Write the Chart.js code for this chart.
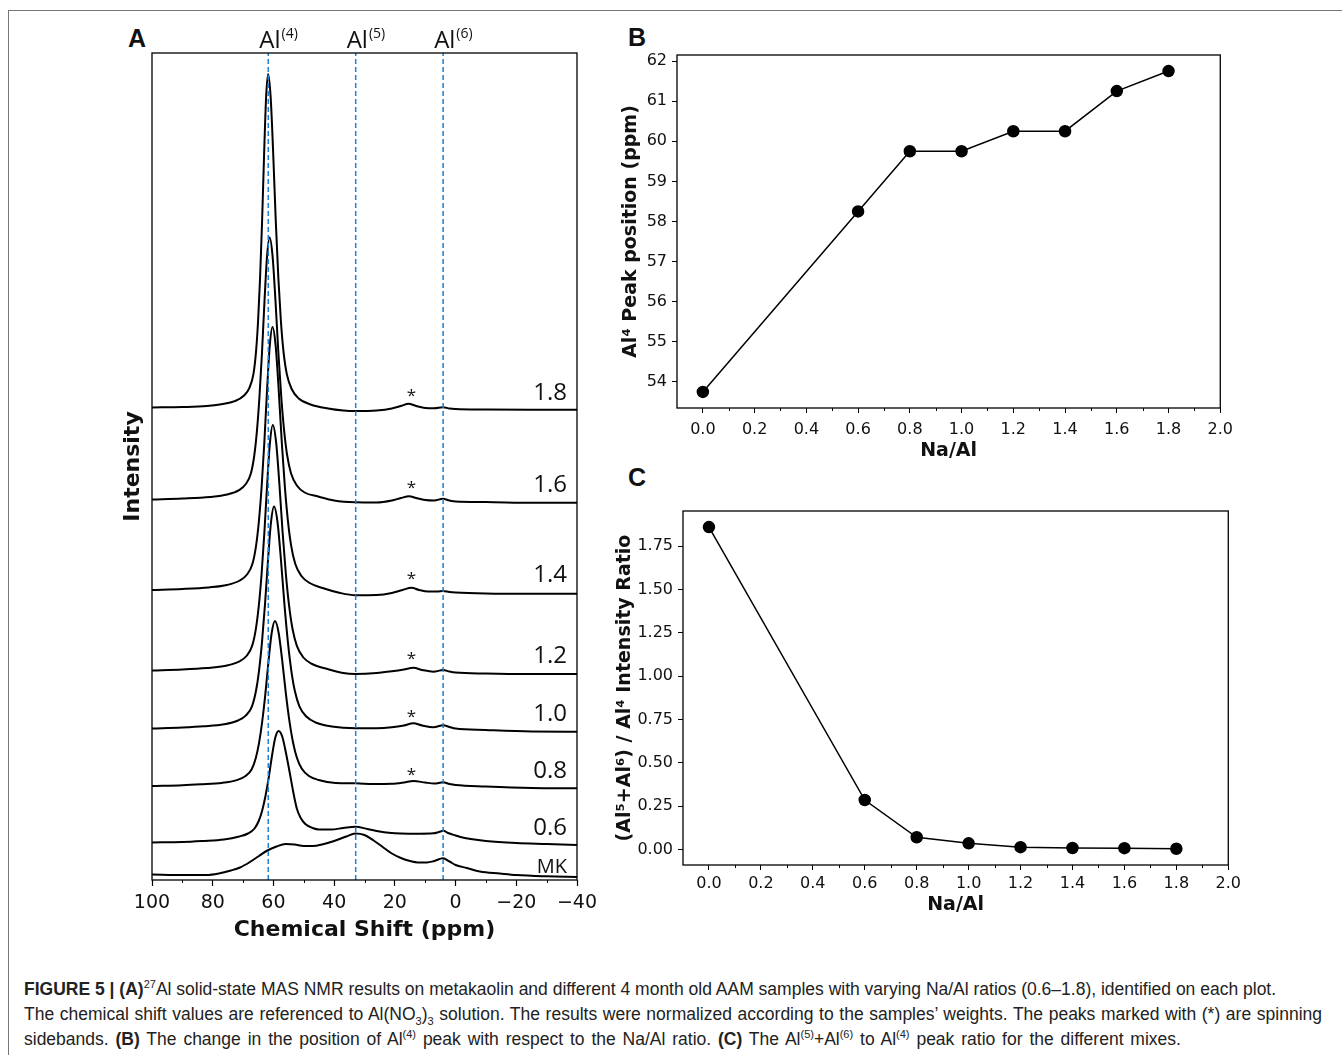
<!DOCTYPE html>
<html>
<head>
<meta charset="utf-8">
<script src="https://cdn.jsdelivr.net/npm/chart.js@4.4.0/dist/chart.umd.min.js"></script>
<style>
body { margin:0; background:#fff; width:1342px; height:1055px; overflow:hidden; position:relative; }
.frame { position:absolute; left:8px; top:10px; width:1400px; height:1100px; border-top:1.5px solid #777; border-left:1.5px solid #777; }
canvas { position:absolute; }
.panel { position:absolute; font-family:'Liberation Sans', Arial, sans-serif; font-weight:bold; font-size:25px; line-height:25px; color:#111; }
.caption { position:absolute; left:24px; font-family:'Liberation Sans', Arial, sans-serif; font-size:17.5px; line-height:20px; color:#222; white-space:nowrap; }
.caption sup, .caption sub { font-size:11px; line-height:0; }
.justify { width:1298px; text-align:justify; text-align-last:justify; }
</style>
</head>
<body>
<div class="frame"></div>
<div class="panel" style="left:128px;top:26px">A</div>
<div class="panel" style="left:628px;top:25px">B</div>
<div class="panel" style="left:628px;top:465px">C</div>
<canvas id="nmr" width="500" height="935" style="left:100px;top:20px"></canvas>
<canvas id="peakPos" width="640" height="450" style="left:600px;top:20px"></canvas>
<canvas id="ratio" width="645" height="455" style="left:600px;top:470px"></canvas>
<div class="caption" style="top:979px"><b>FIGURE 5 | (A)</b><sup>27</sup>Al solid-state MAS NMR results on metakaolin and different 4 month old AAM samples with varying Na/Al ratios (0.6–1.8), identified on each plot.</div>
<div class="caption justify" style="top:1004px">The chemical shift values are referenced to Al(NO<sub>3</sub>)<sub>3</sub> solution. The results were normalized according to the samples’ weights. The peaks marked with (*) are spinning</div>
<div class="caption" style="top:1029px;word-spacing:2px">sidebands. <b>(B)</b> The change in the position of Al<sup>(4)</sup> peak with respect to the Na/Al ratio. <b>(C)</b> The Al<sup>(5)</sup>+Al<sup>(6)</sup> to Al<sup>(4)</sup> peak ratio for the different mixes.</div>
<script>
// panels B and C
const naAl = [0.0, 0.6, 0.8, 1.0, 1.2, 1.4, 1.6, 1.8];
const al4Position = [53.75, 58.25, 59.75, 59.75, 60.25, 60.25, 61.25, 61.75];
const intensityRatio = [1.86, 0.285, 0.07, 0.035, 0.013, 0.008, 0.007, 0.004];

// panel A: stacked spectra, bottom to top
const sampleNames = ['MK', '0.6', '0.8', '1.0', '1.2', '1.4', '1.6', '1.8'];
const stackOffsets = [5.5, 37.5, 94, 151.5, 209.5, 290, 380.5, 472.5];
const siteNames = ['4', '5', '6'];
const sitePpm = [61.7, 32.9, 4.1];
const sidebandPpm = 14.5;
const sidebandSamples = ['0.8', '1.0', '1.2', '1.4', '1.6', '1.8'];

const shiftTicks = [-40, -20, 0, 20, 40, 60, 80, 100];
const shiftMinor = [-30, -10, 10, 30, 50, 70, 90];
const naAlTicks = [0, 0.2, 0.4, 0.6, 0.8, 1.0, 1.2, 1.4, 1.6, 1.8, 2.0];
const naAlMinor = [0.1, 0.3, 0.5, 0.7, 0.9, 1.1, 1.3, 1.5, 1.7, 1.9];
const posTicks = [54, 55, 56, 57, 58, 59, 60, 61, 62];
const ratioTicks = [0, 0.25, 0.5, 0.75, 1.0, 1.25, 1.5, 1.75];

// [ppm, intensity above the sample's baseline]
const specMK = [[100,0],[90,-0.5],[82,-0.5],[78,1],[74,4],[71,7],[68,12],[65,18],[62,24],[59,28],[56,30.5],[53,30],[50,28.5],[47,28.5],[44,30],[40,33.5],[36,38],[33,41],[30,39.5],[27,34],[24,27.5],[21,21],[18,16.5],[15,13.5],[12,12],[9.5,12],[7,13.5],[4.2,16.2],[2,13],[0,9.5],[-3.7,6.5],[-8,3],[-14.6,1],[-20,-0.5],[-30,-1.8],[-40,-2.5]];
const spec06 = [[100,0],[90,0.5],[83.5,1.5],[76.3,3],[71.26,6],[68.38,9],[66.22,14],[64.78,22],[63.7,32],[62.62,46.5],[61.54,65],[60.46,87],[59.38,105],[58.3,111.5],[57.1,106],[55.9,90],[54.7,71],[53.5,51],[52.3,34],[51.1,25],[49.5,18.5],[47.1,14.5],[45,13],[41,13],[37,14.5],[33,15.8],[29,13.5],[25,11],[22,9.8],[18,9],[12,8.8],[7.3,9.2],[5.5,10.5],[4,11.8],[2.5,9.5],[0,7],[-1.3,5.8],[-5,3.5],[-10,1.5],[-20,-0.5],[-30,-1.5],[-40,-2.5]];
const spec08 = [[100,0],[90,0.8],[84,1.7],[77,3.1],[72.1,5.9],[69.3,9.7],[67.2,16.5],[65.8,28.1],[64.75,42.9],[63.7,64.4],[62.65,92.4],[61.6,125.4],[60.55,153.5],[59.5,165],[58.3,153.5],[57.1,125.4],[55.9,92.4],[54.7,64.4],[53.5,43],[52.3,28.5],[50.7,17.5],[48.3,10],[45.1,6],[39.5,3],[33,2.7],[27,2],[21,2.2],[17,3.5],[13.9,5],[10,3.5],[7,2.5],[4.1,3.7],[2,2],[0,1],[-10,-0.5],[-25,-2],[-40,-2.3]];
const spec10 = [[100,0],[90,1],[82.9,2.2],[76.3,4.2],[71.68,8],[69.04,13.1],[67.06,22.2],[65.74,37.7],[64.75,57.7],[63.76,86.6],[62.77,124.3],[61.78,168.7],[60.79,206.5],[59.8,222],[58.66,206.5],[57.52,168.7],[56.38,124.3],[55.24,86.6],[54.1,57.7],[52.96,37.7],[51.44,22.2],[49.16,12],[46.12,6],[40.8,2],[33,0.3],[26,0.3],[21,1.2],[17,3],[13.9,5.2],[11,3],[7.3,1.2],[4.1,3.2],[2,1.5],[0,0],[-10,-1.5],[-25,-3],[-40,-3.2]];
const spec12 = [[100,0],[90,1],[81.9,2.5],[75.7,4.7],[71.36,8.8],[68.88,14.5],[67.02,24.6],[65.78,41.7],[64.85,63.8],[63.92,95.7],[62.99,137.5],[62.06,186.6],[61.13,228.3],[60.2,245.5],[59.12,228.3],[58.04,186.6],[56.96,137.5],[55.88,95.7],[54.8,63.8],[53.72,41.7],[52.28,24.6],[50.12,13],[47.24,6.5],[42.2,1.5],[37,-2.5],[33,-3.4],[26,-2.5],[21,-0.8],[17,1],[13.9,2.8],[11,0.5],[7.3,-1.2],[4.1,0.5],[2,-1],[0,-2],[-10,-3],[-25,-3.5],[-40,-3.5]];
const spec14 = [[100,0],[90,1],[81.3,2.6],[75.3,5],[71.1,9.5],[68.7,15.5],[66.9,26.3],[65.7,44.7],[64.8,68.4],[63.9,102.6],[63.0,147.3],[62.1,199.9],[61.2,244.6],[60.3,263],[59.28,244.6],[58.26,199.9],[57.24,147.3],[56.22,102.6],[55.2,68.4],[54.18,44.7],[52.82,26.3],[50.78,14],[48.06,7],[43.3,1.5],[38,-3],[33,-5.2],[26,-5],[21,-3],[17.5,0],[14.5,2.2],[12,0],[9,-1.5],[6,-1.5],[4.2,-1],[2,-2],[0,-2.5],[-10,-3.5],[-25,-3.8],[-40,-3.8]];
const spec16 = [[100,0],[90,1],[80.85,2.6],[75.25,5],[71.33,9.4],[69.09,15.5],[67.41,26.2],[66.29,44.5],[65.45,68.1],[64.61,102.2],[63.77,146.7],[62.93,199.1],[62.09,243.7],[61.25,262],[60.29,243.7],[59.33,199.1],[58.37,146.7],[57.41,102.2],[56.45,68.1],[55.49,44.5],[54.21,26.2],[52.29,14],[49.73,7],[45.25,3],[40,-1],[33,-2.8],[26,-3],[21,-1],[18,1.5],[15.3,3.3],[13,1.5],[10,-0.5],[7,-1],[4.2,0.7],[2,-1],[0,-2],[-10,-2.5],[-25,-3.3],[-40,-3.3]];
const spec18 = [[100,0],[90,0.5],[82,1.5],[77.15,3.3],[72.75,6.3],[69.67,12],[67.91,19.7],[66.59,33.4],[65.71,56.7],[65.05,86.7],[64.39,130.1],[63.73,186.8],[63.07,253.5],[62.41,310.2],[61.75,333.5],[60.91,310.2],[60.07,253.5],[59.23,186.8],[58.39,130.1],[57.55,86.7],[56.71,56.7],[55.59,33.4],[53.91,18],[51.67,9],[47.75,3],[42,-1],[37,-3],[33,-3.6],[26,-3],[21,-1],[18,1.5],[15.5,3.7],[13,1.5],[10,-0.5],[7,-0.7],[4.2,0.3],[2,-1],[0,-1.5],[-10,-2],[-25,-2.3],[-40,-2.3]];
const spectra = [specMK, spec06, spec08, spec10, spec12, spec14, spec16, spec18];

Chart.defaults.font.family = 'DejaVu Sans';
Chart.defaults.color = '#111';

// box round the plot area
const frame = {
    id: 'frame',
    afterDraw(chart) {
        const { ctx, chartArea: a } = chart;
        ctx.save();
        ctx.strokeStyle = '#000';
        ctx.lineWidth = 1.3;
        ctx.strokeRect(a.left, a.top, a.right - a.left, a.bottom - a.top);
        ctx.restore();
    }
};

// short ticks between the labelled ones
const minorTicks = {
    id: 'minorTicks',
    afterDraw(chart, args, opts) {
        const { ctx, chartArea, scales } = chart;
        ctx.save();
        ctx.strokeStyle = '#000';
        ctx.lineWidth = 1;
        (opts.values || []).forEach(v => {
            const x = Math.round(scales.x.getPixelForValue(v)) + 0.5;
            ctx.beginPath();
            ctx.moveTo(x, chartArea.bottom);
            ctx.lineTo(x, chartArea.bottom + opts.length);
            ctx.stroke();
        });
        ctx.restore();
    }
};

// sample names, sideband stars and Al site names for panel A
const nmrMarks = {
    id: 'nmrMarks',
    afterDatasetsDraw(chart) {
        const { ctx, chartArea, scales: { x, y } } = chart;
        ctx.save();
        ctx.fillStyle = '#111';
        ctx.textAlign = 'right';
        ctx.textBaseline = 'alphabetic';
        sampleNames.forEach((name, i) => {
            const mk = name === 'MK';
            ctx.font = (mk ? '20px' : '24px') + ' "Open Sans"';
            ctx.fillText(name, chartArea.right - 10, y.getPixelForValue(stackOffsets[i] + (mk ? 2 : 8)));
        });
        ctx.textAlign = 'center';
        ctx.textBaseline = 'middle';
        ctx.font = '17px "Open Sans"';
        sidebandSamples.forEach(name => {
            const i = sampleNames.indexOf(name);
            ctx.fillText('*', x.getPixelForValue(sidebandPpm), y.getPixelForValue(stackOffsets[i] + 11));
        });
        ctx.textAlign = 'left';
        ctx.textBaseline = 'alphabetic';
        sitePpm.forEach((p, i) => {
            const px = x.getPixelForValue(p) - 9;
            ctx.font = '24px "Open Sans"';
            ctx.fillText('Al', px, chartArea.top - 5);
            const w = ctx.measureText('Al').width;
            ctx.font = '14px "Open Sans"';
            ctx.fillText('(' + siteNames[i] + ')', px + w + 1, chartArea.top - 15);
        });
        ctx.restore();
    }
};

const nmrSets = spectra.map((pts, i) => ({
    label: sampleNames[i],
    data: pts.map(p => ({ x: p[0], y: stackOffsets[i] + p[1] })),
    borderColor: '#000',
    borderWidth: 2,
    pointRadius: 0,
    cubicInterpolationMode: 'monotone',
    order: 2
}));
sitePpm.forEach((p, i) => {
    nmrSets.push({
        label: 'Al' + siteNames[i],
        data: [{ x: p, y: 0 }, { x: p, y: 827 }],
        borderColor: '#1f80cf',
        borderWidth: 1.5,
        borderDash: [5, 3],
        pointRadius: 0,
        order: 1
    });
});

const boldTitle = size => ({ family: 'DejaVu Sans', size: size, weight: 'bold' });

new Chart(document.getElementById('nmr'), {
    type: 'line',
    data: { datasets: nmrSets },
    plugins: [frame, minorTicks, nmrMarks],
    options: {
        responsive: false,
        animation: false,
        layout: { padding: { left: 0, top: 33, right: 23, bottom: 0 } },
        plugins: {
            legend: { display: false },
            tooltip: { enabled: false },
            minorTicks: { values: shiftMinor, length: 3 }
        },
        scales: {
            x: {
                type: 'linear',
                reverse: true,
                min: -40,
                max: 100,
                afterBuildTicks: s => { s.ticks = shiftTicks.map(v => ({ value: v })); },
                afterFit: s => { s.height = 75; },
                ticks: {
                    font: { size: 19 },
                    color: '#111',
                    padding: 6,
                    autoSkip: false,
                    maxRotation: 0,
                    callback: v => v < 0 ? '\u2212' + Math.abs(v) : String(v)
                },
                grid: { drawOnChartArea: false, tickLength: 6, color: '#000', tickWidth: 1.2 },
                border: { display: false },
                title: { display: true, text: 'Chemical Shift (ppm)', font: boldTitle(22), color: '#111', padding: { top: 0, bottom: 12 } }
            },
            y: {
                min: 0,
                max: 827,
                afterFit: s => { s.width = 52; },
                ticks: { display: false },
                grid: { display: false },
                border: { display: false },
                title: { display: true, text: 'Intensity', font: boldTitle(22), color: '#111', padding: { top: 20, bottom: 0 } }
            }
        }
    }
});

function trendChart(id, values, yTicks, yDigits, yTitle, box) {
    return new Chart(document.getElementById(id), {
        type: 'line',
        data: {
            labels: naAl,
            datasets: [{
                data: naAl.map((v, i) => ({ x: v, y: values[i] })),
                borderColor: '#000',
                borderWidth: 1.5,
                pointRadius: 5.5,
                pointBackgroundColor: '#000',
                pointBorderColor: '#000',
                tension: 0
            }]
        },
        plugins: [frame, minorTicks],
        options: {
            responsive: false,
            animation: false,
            layout: { padding: { left: 0, top: box.top, right: 15, bottom: 0 } },
            plugins: {
                legend: { display: false },
                tooltip: { enabled: false },
                minorTicks: { values: naAlMinor, length: 3 }
            },
            scales: {
                x: {
                    type: 'linear',
                    min: -0.1,
                    max: 2.0,
                    afterBuildTicks: s => { s.ticks = naAlTicks.map(v => ({ value: v })); },
                    afterFit: s => { s.height = box.xh; },
                    ticks: { font: { size: 16 }, color: '#111', padding: box.tpad, autoSkip: false, maxRotation: 0, callback: v => v.toFixed(1) },
                    grid: { drawOnChartArea: false, tickLength: 5, color: '#000', tickWidth: 1 },
                    border: { display: false },
                    title: { display: true, text: 'Na/Al', font: boldTitle(19), color: '#111', padding: { top: 0, bottom: box.xpad } }
                },
                y: {
                    min: box.ymin,
                    max: box.ymax,
                    afterBuildTicks: s => { s.ticks = yTicks.map(v => ({ value: v })); },
                    afterFit: s => { s.width = box.yw; },
                    ticks: { font: { size: 16 }, color: '#111', padding: 5, autoSkip: false, callback: v => v.toFixed(yDigits) },
                    grid: { drawOnChartArea: false, tickLength: 5, color: '#000', tickWidth: 1 },
                    border: { display: false },
                    title: { display: true, text: yTitle, font: boldTitle(19), color: '#111', padding: { top: box.ypad, bottom: 0 } }
                }
            }
        }
    });
}

trendChart('peakPos', al4Position, posTicks, 0, 'Al\u2074 Peak position (ppm)',
    { top: 35, xh: 62, xpad: 7.6, tpad: 7, yw: 77, ypad: 19.6, ymin: 53.35, ymax: 62.15 });
trendChart('ratio', intensityRatio, ratioTicks, 2, '(Al\u2075+Al\u2076) / Al\u2074 Intensity Ratio',
    { top: 41, xh: 60, xpad: 8.6, tpad: 4, yw: 83, ypad: 13.6, ymin: -0.09, ymax: 1.953 });
</script>
</body>
</html>
